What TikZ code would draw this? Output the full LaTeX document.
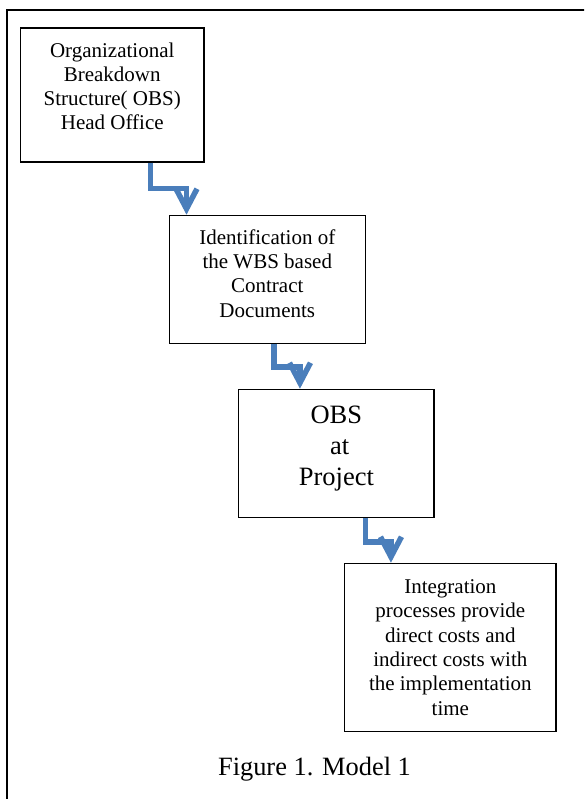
\documentclass[tikz,border=0pt]{standalone}
\usepackage{fontspec}
\setmainfont{Liberation Serif}
\usetikzlibrary{arrows.meta}
\definecolor{flowblue}{RGB}{74,126,187}
\begin{document}
\begin{tikzpicture}[x=1pt,y=-1pt,
  box/.style={draw=black,line width=1.2pt,inner sep=0pt,minimum width=#1},
  txt/.style={align=center,inner sep=0pt,anchor=base,font=\fontsize{21}{24.3}\selectfont},
  bigtxt/.style={align=center,inner sep=0pt,anchor=base,font=\fontsize{26.5}{31}\selectfont},
  flow/.style={draw=flowblue,line width=5.5pt,line join=miter,
    -{Straight Barb[length=20pt,width=21pt,line join=miter,line cap=butt]}}
]
\useasboundingbox (0,0) rectangle (584,799);
\clip (0,0) rectangle (584,799);
\draw[line width=2pt] (6.5,10) rectangle (620,830);

% boxes
\node[box=183.5pt,minimum height=134pt] (b1) at (112.25,95) {};
\node[box=196pt,minimum height=128pt] (b2) at (267.3,279.3) {};
\node[box=195.3pt,minimum height=128pt] (b3) at (336.35,453.3) {};
\node[box=211.3pt,minimum height=168pt] (b4) at (450.35,647.3) {};

% texts (anchored at the baseline of their last line)
\node[txt] (t1) at (112.25,130) {Organizational\\Breakdown\\Structure( OBS)\\Head Office};
\node[txt] (t2) at (267.3,317) {Identification of\\the WBS based\\Contract\\Documents};
\node[bigtxt] (t3) at (336.35,485) {OBS\\ \ at\\Project};
\node[txt] (t4) at (450.35,715) {Integration\\processes provide\\direct costs and\\indirect costs with\\the implementation\\time};

% connectors
\draw[flow] ([xshift=38.25pt]b1.south) -- ++(0,26) -| ([xshift=-80.8pt]b2.north);
\draw[flow] ([xshift=6.7pt]b2.south) -- ++(0,23) -| ([xshift=-36.4pt]b3.north);
\draw[flow] ([xshift=29.1pt]b3.south) -- ++(0,24) -| ([xshift=-59.4pt]b4.north);

% caption
\node[anchor=base,inner sep=0pt,font=\fontsize{26.4}{31}\selectfont] (cap) at (314.5,775) {Figure 1. Model 1};
\end{tikzpicture}
\end{document}
